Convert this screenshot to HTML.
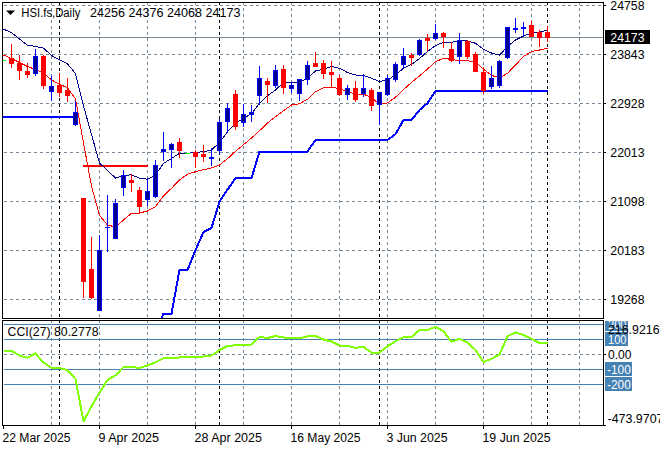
<!DOCTYPE html>
<html><head><meta charset="utf-8"><title>HSI.fs Daily</title>
<style>
html,body{margin:0;padding:0;background:#fff;}
body{width:660px;height:450px;overflow:hidden;font-family:"Liberation Sans",sans-serif;}
svg{display:block;}
text{font-family:"Liberation Sans",sans-serif;font-size:12.5px;fill:#000;}
</style></head><body>
<svg width="660" height="450" viewBox="0 0 660 450">
<rect x="0" y="0" width="660" height="450" fill="#fff"/>
<defs>
<clipPath id="cm"><rect x="3" y="3" width="600" height="315"/></clipPath>
<clipPath id="ci"><rect x="3" y="321" width="600" height="104"/></clipPath>
<clipPath id="cr"><rect x="604" y="321" width="56" height="105"/></clipPath>
</defs>

<g shape-rendering="crispEdges" fill="none" stroke-width="1">
<g stroke="#778899" stroke-dasharray="3 3">
<line x1="4" y1="5.5" x2="603" y2="5.5"/>
<line x1="4" y1="54.5" x2="603" y2="54.5"/>
<line x1="4" y1="103.5" x2="603" y2="103.5"/>
<line x1="4" y1="152.5" x2="603" y2="152.5"/>
<line x1="4" y1="201.5" x2="603" y2="201.5"/>
<line x1="4" y1="250.5" x2="603" y2="250.5"/>
<line x1="4" y1="299.5" x2="603" y2="299.5"/>
<line x1="51.5" y1="2" x2="51.5" y2="318" stroke-dashoffset="0"/>
<line x1="51.5" y1="320" x2="51.5" y2="425"/>
<line x1="99.5" y1="2" x2="99.5" y2="318" stroke-dashoffset="0"/>
<line x1="99.5" y1="320" x2="99.5" y2="425"/>
<line x1="147.5" y1="2" x2="147.5" y2="318" stroke-dashoffset="0"/>
<line x1="147.5" y1="320" x2="147.5" y2="425"/>
<line x1="195.5" y1="2" x2="195.5" y2="318" stroke-dashoffset="0"/>
<line x1="195.5" y1="320" x2="195.5" y2="425"/>
<line x1="243.5" y1="2" x2="243.5" y2="318" stroke-dashoffset="0"/>
<line x1="243.5" y1="320" x2="243.5" y2="425"/>
<line x1="291.5" y1="2" x2="291.5" y2="318" stroke-dashoffset="0"/>
<line x1="291.5" y1="320" x2="291.5" y2="425"/>
<line x1="339.5" y1="2" x2="339.5" y2="318" stroke-dashoffset="0"/>
<line x1="339.5" y1="320" x2="339.5" y2="425"/>
<line x1="387.5" y1="2" x2="387.5" y2="318" stroke-dashoffset="0"/>
<line x1="387.5" y1="320" x2="387.5" y2="425"/>
<line x1="435.5" y1="2" x2="435.5" y2="318" stroke-dashoffset="0"/>
<line x1="435.5" y1="320" x2="435.5" y2="425"/>
<line x1="483.5" y1="2" x2="483.5" y2="318" stroke-dashoffset="0"/>
<line x1="483.5" y1="320" x2="483.5" y2="425"/>
<line x1="531.5" y1="2" x2="531.5" y2="318" stroke-dashoffset="0"/>
<line x1="531.5" y1="320" x2="531.5" y2="425"/>
<line x1="579.5" y1="2" x2="579.5" y2="318" stroke-dashoffset="0"/>
<line x1="579.5" y1="320" x2="579.5" y2="425"/>
<line x1="4" y1="354.5" x2="603" y2="354.5"/>
</g>
<g stroke="#000" stroke-dasharray="3 3">
<line x1="59.5" y1="2" x2="59.5" y2="318"/>
<line x1="59.5" y1="320" x2="59.5" y2="425"/>
<line x1="219.5" y1="2" x2="219.5" y2="318"/>
<line x1="219.5" y1="320" x2="219.5" y2="425"/>
<line x1="379.5" y1="2" x2="379.5" y2="318"/>
<line x1="379.5" y1="320" x2="379.5" y2="425"/>
<line x1="547.5" y1="2" x2="547.5" y2="318"/>
<line x1="547.5" y1="320" x2="547.5" y2="425"/>
</g>
<g stroke="#4682B4">
<line x1="4" y1="324.5" x2="603" y2="324.5"/>
<line x1="4" y1="339.5" x2="603" y2="339.5"/>
<line x1="4" y1="369.5" x2="603" y2="369.5"/>
<line x1="4" y1="384.5" x2="603" y2="384.5"/>
</g>
<line x1="3" y1="37.5" x2="603" y2="37.5" stroke="#778899"/>
</g>
<g clip-path="url(#cm)" shape-rendering="crispEdges">
<polyline fill="none" stroke="#0000FF" stroke-width="2" points="2.5,117.0 75.5,117.0"/>
<polyline fill="none" stroke="#0000FF" stroke-width="2" stroke-linejoin="round" points="155.5,330.6 163.5,313.7 171.5,313.7 179.5,270.0 187.5,270.0 195.5,250.0 203.5,232.0 211.5,228.0 219.5,201.5 227.5,189.7 235.5,178.2 243.5,178.2 251.5,178.2 259.5,151.5 267.5,151.5 275.5,151.5 283.5,151.5 291.5,151.5 299.5,151.5 307.5,151.5 315.5,140.0 323.5,140.0 331.5,140.0 339.5,140.0 347.5,140.0 355.5,140.0 363.5,140.0 371.5,140.0 379.5,140.0 387.5,140.0 395.5,134.2 403.5,120.0 411.5,120.0 419.5,110.0 427.5,103.3 435.5,91.0 443.5,91.0 451.5,91.0 459.5,91.0 467.5,91.0 475.5,91.0 483.5,91.0 491.5,91.0 499.5,91.0 507.5,91.0 515.5,91.0 523.5,91.0 531.5,91.0 539.5,91.0 547.5,91.0"/>
<line x1="83" y1="165.5" x2="147.5" y2="165.5" stroke="#FF0000" stroke-width="2"/>
<polyline fill="none" stroke="#00008B" stroke-width="1" points="3.5,29.1 11.5,32.7 19.5,39.0 27.5,45.3 35.5,46.4 43.5,48.1 51.5,55.5 59.5,59.9 67.5,63.9 75.5,73.5 83.5,106.0 91.5,134.5 99.5,163.0 107.5,170.5 115.5,178.0 123.5,175.8 131.5,174.7 139.5,178.3 147.5,179.2 155.5,175.0 163.5,163.3 171.5,158.5 179.5,153.3 187.5,153.3 195.5,152.5 203.5,151.7 211.5,150.0 219.5,142.5 227.5,131.7 235.5,123.3 243.5,118.3 251.5,113.7 259.5,103.3 267.5,95.8 275.5,90.0 283.5,82.5 291.5,82.5 299.5,82.0 307.5,78.3 315.5,71.0 323.5,69.2 331.5,66.5 339.5,68.3 347.5,72.5 355.5,75.0 363.5,75.3 371.5,78.3 379.5,81.5 387.5,80.0 395.5,75.0 403.5,68.2 411.5,64.5 419.5,58.5 427.5,51.5 435.5,45.5 443.5,42.3 451.5,42.2 459.5,41.0 467.5,40.8 475.5,43.3 483.5,49.2 491.5,53.0 499.5,55.2 507.5,46.5 515.5,40.0 523.5,36.0 531.5,33.0 539.5,32.0 547.5,30.2"/>
<polyline fill="none" stroke="#FF0000" stroke-width="1" points="3.5,55.0 11.5,58.5 19.5,62.5 27.5,66.5 35.5,69.5 43.5,73.0 51.5,80.0 59.5,84.3 67.5,87.7 75.5,99.0 83.5,143.0 91.5,186.0 99.5,215.5 107.5,225.0 115.5,227.0 123.5,220.0 131.5,213.3 139.5,213.0 147.5,211.0 155.5,206.7 163.5,195.8 171.5,188.3 179.5,180.0 187.5,174.2 195.5,171.7 203.5,169.7 211.5,168.0 219.5,165.0 227.5,158.7 235.5,151.3 243.5,144.7 251.5,138.0 259.5,130.8 267.5,123.0 275.5,116.7 283.5,110.8 291.5,105.0 299.5,103.7 307.5,99.2 315.5,91.8 323.5,87.8 331.5,87.0 339.5,88.7 347.5,91.7 355.5,94.2 363.5,94.2 371.5,97.5 379.5,104.2 387.5,103.0 395.5,97.2 403.5,89.6 411.5,82.4 419.5,75.9 427.5,69.1 435.5,61.8 443.5,58.2 451.5,59.5 459.5,60.7 467.5,60.8 475.5,61.7 483.5,69.2 491.5,75.4 499.5,77.8 507.5,73.3 515.5,65.0 523.5,56.5 531.5,51.5 539.5,50.0 547.5,48.3"/>
<line x1="11.5" y1="44.2" x2="11.5" y2="67.5" stroke="#FF0000" stroke-width="1"/>
<rect x="9.5" y="58.5" width="4" height="5.0" fill="#FF0000" stroke="#FF0000" stroke-width="1"/>
<line x1="19.5" y1="55.0" x2="19.5" y2="79.7" stroke="#FF0000" stroke-width="1"/>
<rect x="17.5" y="63.5" width="4" height="7.0" fill="#FF0000" stroke="#FF0000" stroke-width="1"/>
<line x1="27.5" y1="63.0" x2="27.5" y2="77.5" stroke="#FF0000" stroke-width="1"/>
<rect x="25.5" y="71.5" width="4" height="3.0" fill="#FF0000" stroke="#FF0000" stroke-width="1"/>
<line x1="35.5" y1="49.0" x2="35.5" y2="75.8" stroke="#0000FF" stroke-width="1"/>
<rect x="33.5" y="56.5" width="4" height="17.0" fill="#00008B" stroke="#0000FF" stroke-width="1"/>
<line x1="43.5" y1="55.0" x2="43.5" y2="88.7" stroke="#FF0000" stroke-width="1"/>
<rect x="41.5" y="56.5" width="4" height="29.0" fill="#FF0000" stroke="#FF0000" stroke-width="1"/>
<line x1="51.5" y1="75.8" x2="51.5" y2="100.8" stroke="#0000FF" stroke-width="1"/>
<rect x="49.5" y="86.5" width="4" height="5.0" fill="#00008B" stroke="#0000FF" stroke-width="1"/>
<line x1="59.5" y1="73.0" x2="59.5" y2="96.7" stroke="#FF0000" stroke-width="1"/>
<rect x="57.5" y="85.5" width="4" height="7.0" fill="#FF0000" stroke="#FF0000" stroke-width="1"/>
<line x1="67.5" y1="78.0" x2="67.5" y2="101.7" stroke="#FF0000" stroke-width="1"/>
<rect x="65.5" y="90.5" width="4" height="5.0" fill="#FF0000" stroke="#FF0000" stroke-width="1"/>
<line x1="75.5" y1="100.8" x2="75.5" y2="125.8" stroke="#0000FF" stroke-width="1"/>
<rect x="73.5" y="112.5" width="4" height="12.0" fill="#00008B" stroke="#0000FF" stroke-width="1"/>
<line x1="83.5" y1="198.3" x2="83.5" y2="298.0" stroke="#FF0000" stroke-width="1"/>
<rect x="81.5" y="198.5" width="4" height="83.0" fill="#FF0000" stroke="#FF0000" stroke-width="1"/>
<line x1="91.5" y1="236.7" x2="91.5" y2="298.8" stroke="#FF0000" stroke-width="1"/>
<rect x="89.5" y="269.5" width="4" height="28.0" fill="#FF0000" stroke="#FF0000" stroke-width="1"/>
<line x1="99.5" y1="235.0" x2="99.5" y2="310.8" stroke="#0000FF" stroke-width="1"/>
<rect x="97.5" y="250.5" width="4" height="60.0" fill="#00008B" stroke="#0000FF" stroke-width="1"/>
<line x1="107.5" y1="195.0" x2="107.5" y2="251.7" stroke="#0000FF" stroke-width="1"/>
<line x1="105.0" y1="227.5" x2="110.0" y2="227.5" stroke="#0000FF" stroke-width="1"/>
<line x1="115.5" y1="199.2" x2="115.5" y2="238.7" stroke="#0000FF" stroke-width="1"/>
<rect x="113.5" y="203.5" width="4" height="35.0" fill="#00008B" stroke="#0000FF" stroke-width="1"/>
<line x1="123.5" y1="170.0" x2="123.5" y2="195.8" stroke="#0000FF" stroke-width="1"/>
<rect x="121.5" y="175.5" width="4" height="12.0" fill="#00008B" stroke="#0000FF" stroke-width="1"/>
<line x1="131.5" y1="173.7" x2="131.5" y2="191.7" stroke="#FF0000" stroke-width="1"/>
<rect x="129.5" y="180.5" width="4" height="2.0" fill="#FF0000" stroke="#FF0000" stroke-width="1"/>
<line x1="139.5" y1="187.0" x2="139.5" y2="214.2" stroke="#FF0000" stroke-width="1"/>
<rect x="137.5" y="190.5" width="4" height="16.0" fill="#FF0000" stroke="#FF0000" stroke-width="1"/>
<line x1="147.5" y1="178.3" x2="147.5" y2="205.8" stroke="#0000FF" stroke-width="1"/>
<rect x="145.5" y="191.5" width="4" height="8.0" fill="#00008B" stroke="#0000FF" stroke-width="1"/>
<line x1="155.5" y1="160.0" x2="155.5" y2="197.5" stroke="#0000FF" stroke-width="1"/>
<rect x="153.5" y="165.5" width="4" height="31.0" fill="#00008B" stroke="#0000FF" stroke-width="1"/>
<line x1="163.5" y1="132.0" x2="163.5" y2="160.5" stroke="#0000FF" stroke-width="1"/>
<rect x="161.5" y="149.5" width="4" height="2.0" fill="#00008B" stroke="#0000FF" stroke-width="1"/>
<line x1="171.5" y1="143.0" x2="171.5" y2="168.3" stroke="#0000FF" stroke-width="1"/>
<rect x="169.5" y="144.5" width="4" height="5.0" fill="#00008B" stroke="#0000FF" stroke-width="1"/>
<line x1="179.5" y1="138.0" x2="179.5" y2="157.5" stroke="#FF0000" stroke-width="1"/>
<rect x="177.5" y="142.5" width="4" height="8.0" fill="#FF0000" stroke="#FF0000" stroke-width="1"/>
<line x1="195.5" y1="150.0" x2="195.5" y2="167.5" stroke="#FF0000" stroke-width="1"/>
<rect x="193.5" y="152.5" width="4" height="4.0" fill="#FF0000" stroke="#FF0000" stroke-width="1"/>
<line x1="203.5" y1="145.0" x2="203.5" y2="161.7" stroke="#FF0000" stroke-width="1"/>
<rect x="201.5" y="154.5" width="4" height="2.0" fill="#FF0000" stroke="#FF0000" stroke-width="1"/>
<line x1="211.5" y1="148.3" x2="211.5" y2="165.8" stroke="#0000FF" stroke-width="1"/>
<rect x="209.5" y="157.5" width="4" height="1.0" fill="#00008B" stroke="#0000FF" stroke-width="1"/>
<line x1="219.5" y1="119.0" x2="219.5" y2="154.0" stroke="#0000FF" stroke-width="1"/>
<rect x="217.5" y="122.5" width="4" height="28.0" fill="#00008B" stroke="#0000FF" stroke-width="1"/>
<line x1="227.5" y1="103.0" x2="227.5" y2="133.3" stroke="#0000FF" stroke-width="1"/>
<rect x="225.5" y="108.5" width="4" height="13.0" fill="#00008B" stroke="#0000FF" stroke-width="1"/>
<line x1="235.5" y1="90.0" x2="235.5" y2="130.3" stroke="#FF0000" stroke-width="1"/>
<rect x="233.5" y="94.5" width="4" height="32.0" fill="#FF0000" stroke="#FF0000" stroke-width="1"/>
<line x1="243.5" y1="104.0" x2="243.5" y2="126.7" stroke="#0000FF" stroke-width="1"/>
<rect x="241.5" y="114.5" width="4" height="8.0" fill="#00008B" stroke="#0000FF" stroke-width="1"/>
<line x1="251.5" y1="105.0" x2="251.5" y2="121.7" stroke="#0000FF" stroke-width="1"/>
<rect x="249.5" y="112.5" width="4" height="2.0" fill="#00008B" stroke="#0000FF" stroke-width="1"/>
<line x1="259.5" y1="65.8" x2="259.5" y2="105.0" stroke="#0000FF" stroke-width="1"/>
<rect x="257.5" y="78.5" width="4" height="17.0" fill="#00008B" stroke="#0000FF" stroke-width="1"/>
<line x1="267.5" y1="78.0" x2="267.5" y2="102.5" stroke="#FF0000" stroke-width="1"/>
<rect x="265.5" y="81.5" width="4" height="3.0" fill="#FF0000" stroke="#FF0000" stroke-width="1"/>
<line x1="275.5" y1="65.0" x2="275.5" y2="87.5" stroke="#0000FF" stroke-width="1"/>
<rect x="273.5" y="70.5" width="4" height="15.0" fill="#00008B" stroke="#0000FF" stroke-width="1"/>
<line x1="283.5" y1="65.0" x2="283.5" y2="93.7" stroke="#FF0000" stroke-width="1"/>
<rect x="281.5" y="69.5" width="4" height="18.0" fill="#FF0000" stroke="#FF0000" stroke-width="1"/>
<line x1="291.5" y1="82.5" x2="291.5" y2="92.5" stroke="#0000FF" stroke-width="1"/>
<rect x="289.5" y="85.5" width="4" height="3.0" fill="#00008B" stroke="#0000FF" stroke-width="1"/>
<line x1="299.5" y1="79.2" x2="299.5" y2="100.8" stroke="#0000FF" stroke-width="1"/>
<rect x="297.5" y="79.5" width="4" height="14.0" fill="#00008B" stroke="#0000FF" stroke-width="1"/>
<line x1="307.5" y1="61.3" x2="307.5" y2="84.7" stroke="#0000FF" stroke-width="1"/>
<rect x="305.5" y="65.5" width="4" height="14.0" fill="#00008B" stroke="#0000FF" stroke-width="1"/>
<line x1="315.5" y1="52.0" x2="315.5" y2="66.7" stroke="#FF0000" stroke-width="1"/>
<rect x="313.5" y="63.5" width="4" height="3.0" fill="#FF0000" stroke="#FF0000" stroke-width="1"/>
<line x1="323.5" y1="60.0" x2="323.5" y2="78.5" stroke="#FF0000" stroke-width="1"/>
<rect x="321.5" y="63.5" width="4" height="10.0" fill="#FF0000" stroke="#FF0000" stroke-width="1"/>
<line x1="331.5" y1="60.8" x2="331.5" y2="85.8" stroke="#FF0000" stroke-width="1"/>
<rect x="329.5" y="72.5" width="4" height="2.0" fill="#FF0000" stroke="#FF0000" stroke-width="1"/>
<line x1="339.5" y1="74.7" x2="339.5" y2="95.8" stroke="#FF0000" stroke-width="1"/>
<rect x="337.5" y="78.5" width="4" height="16.0" fill="#FF0000" stroke="#FF0000" stroke-width="1"/>
<line x1="347.5" y1="85.0" x2="347.5" y2="99.7" stroke="#0000FF" stroke-width="1"/>
<rect x="345.5" y="88.5" width="4" height="6.0" fill="#00008B" stroke="#0000FF" stroke-width="1"/>
<line x1="355.5" y1="80.8" x2="355.5" y2="101.7" stroke="#FF0000" stroke-width="1"/>
<rect x="353.5" y="88.5" width="4" height="11.0" fill="#FF0000" stroke="#FF0000" stroke-width="1"/>
<line x1="363.5" y1="74.2" x2="363.5" y2="96.7" stroke="#0000FF" stroke-width="1"/>
<rect x="361.5" y="88.5" width="4" height="5.0" fill="#00008B" stroke="#0000FF" stroke-width="1"/>
<line x1="371.5" y1="88.0" x2="371.5" y2="110.5" stroke="#FF0000" stroke-width="1"/>
<rect x="369.5" y="90.5" width="4" height="15.0" fill="#FF0000" stroke="#FF0000" stroke-width="1"/>
<line x1="379.5" y1="91.7" x2="379.5" y2="125.3" stroke="#0000FF" stroke-width="1"/>
<rect x="377.5" y="92.5" width="4" height="12.0" fill="#00008B" stroke="#0000FF" stroke-width="1"/>
<line x1="387.5" y1="75.0" x2="387.5" y2="95.8" stroke="#0000FF" stroke-width="1"/>
<rect x="385.5" y="78.5" width="4" height="16.0" fill="#00008B" stroke="#0000FF" stroke-width="1"/>
<line x1="395.5" y1="61.8" x2="395.5" y2="82.0" stroke="#0000FF" stroke-width="1"/>
<rect x="393.5" y="64.5" width="4" height="15.0" fill="#00008B" stroke="#0000FF" stroke-width="1"/>
<line x1="403.5" y1="47.8" x2="403.5" y2="67.5" stroke="#0000FF" stroke-width="1"/>
<rect x="401.5" y="56.5" width="4" height="8.0" fill="#00008B" stroke="#0000FF" stroke-width="1"/>
<line x1="411.5" y1="52.8" x2="411.5" y2="65.8" stroke="#FF0000" stroke-width="1"/>
<rect x="409.5" y="55.5" width="4" height="2.0" fill="#FF0000" stroke="#FF0000" stroke-width="1"/>
<line x1="419.5" y1="38.7" x2="419.5" y2="55.8" stroke="#0000FF" stroke-width="1"/>
<rect x="417.5" y="40.5" width="4" height="14.0" fill="#00008B" stroke="#0000FF" stroke-width="1"/>
<line x1="427.5" y1="34.2" x2="427.5" y2="50.8" stroke="#FF0000" stroke-width="1"/>
<rect x="425.5" y="38.5" width="4" height="2.0" fill="#FF0000" stroke="#FF0000" stroke-width="1"/>
<line x1="435.5" y1="24.2" x2="435.5" y2="40.3" stroke="#0000FF" stroke-width="1"/>
<rect x="433.5" y="33.5" width="4" height="5.0" fill="#00008B" stroke="#0000FF" stroke-width="1"/>
<line x1="443.5" y1="31.7" x2="443.5" y2="48.0" stroke="#FF0000" stroke-width="1"/>
<rect x="441.5" y="33.5" width="4" height="3.0" fill="#FF0000" stroke="#FF0000" stroke-width="1"/>
<line x1="451.5" y1="41.7" x2="451.5" y2="61.7" stroke="#FF0000" stroke-width="1"/>
<rect x="449.5" y="49.5" width="4" height="11.0" fill="#FF0000" stroke="#FF0000" stroke-width="1"/>
<line x1="459.5" y1="33.0" x2="459.5" y2="63.7" stroke="#0000FF" stroke-width="1"/>
<rect x="457.5" y="40.5" width="4" height="16.0" fill="#00008B" stroke="#0000FF" stroke-width="1"/>
<line x1="467.5" y1="40.0" x2="467.5" y2="58.5" stroke="#FF0000" stroke-width="1"/>
<rect x="465.5" y="41.5" width="4" height="15.0" fill="#FF0000" stroke="#FF0000" stroke-width="1"/>
<line x1="475.5" y1="52.0" x2="475.5" y2="71.7" stroke="#FF0000" stroke-width="1"/>
<rect x="473.5" y="54.5" width="4" height="17.0" fill="#FF0000" stroke="#FF0000" stroke-width="1"/>
<line x1="483.5" y1="66.5" x2="483.5" y2="94.2" stroke="#FF0000" stroke-width="1"/>
<rect x="481.5" y="72.5" width="4" height="18.0" fill="#FF0000" stroke="#FF0000" stroke-width="1"/>
<line x1="491.5" y1="65.8" x2="491.5" y2="88.7" stroke="#0000FF" stroke-width="1"/>
<rect x="489.5" y="78.5" width="4" height="8.0" fill="#00008B" stroke="#0000FF" stroke-width="1"/>
<line x1="499.5" y1="59.8" x2="499.5" y2="87.5" stroke="#0000FF" stroke-width="1"/>
<rect x="497.5" y="61.5" width="4" height="24.0" fill="#00008B" stroke="#0000FF" stroke-width="1"/>
<line x1="507.5" y1="27.2" x2="507.5" y2="58.5" stroke="#0000FF" stroke-width="1"/>
<rect x="505.5" y="27.5" width="4" height="30.0" fill="#00008B" stroke="#0000FF" stroke-width="1"/>
<line x1="515.5" y1="18.0" x2="515.5" y2="32.8" stroke="#0000FF" stroke-width="1"/>
<rect x="513.5" y="28.5" width="4" height="1.0" fill="#00008B" stroke="#0000FF" stroke-width="1"/>
<line x1="523.5" y1="22.0" x2="523.5" y2="36.1" stroke="#0000FF" stroke-width="1"/>
<rect x="521.5" y="27.5" width="4" height="1.0" fill="#00008B" stroke="#0000FF" stroke-width="1"/>
<line x1="531.5" y1="20.9" x2="531.5" y2="37.2" stroke="#FF0000" stroke-width="1"/>
<rect x="529.5" y="25.5" width="4" height="11.0" fill="#FF0000" stroke="#FF0000" stroke-width="1"/>
<line x1="539.5" y1="30.0" x2="539.5" y2="46.7" stroke="#FF0000" stroke-width="1"/>
<rect x="537.5" y="32.5" width="4" height="5.0" fill="#FF0000" stroke="#FF0000" stroke-width="1"/>
<line x1="547.5" y1="26.1" x2="547.5" y2="42.2" stroke="#FF0000" stroke-width="1"/>
<rect x="545.5" y="32.5" width="4" height="5.0" fill="#FF0000" stroke="#FF0000" stroke-width="1"/>
<line x1="1" y1="60.5" x2="6" y2="60.5" stroke="#00FF00" stroke-width="1"/>
<line x1="185" y1="153.5" x2="190" y2="153.5" stroke="#00FF00" stroke-width="1"/>
</g>
<g clip-path="url(#ci)" shape-rendering="crispEdges">
<polyline fill="none" stroke="#7FFF00" stroke-width="2" stroke-linejoin="round" points="3.5,350.8 11.5,350.8 19.5,355.5 27.5,357.7 35.5,353.5 43.5,362.5 51.5,367.8 59.5,368.2 67.5,370.2 75.5,379.0 83.5,421.3 91.5,406.3 99.5,392.5 107.5,380.0 115.5,375.3 123.5,367.0 131.5,367.0 139.5,368.0 147.5,365.5 155.5,362.3 163.5,358.3 171.5,358.0 179.5,357.5 187.5,357.0 195.5,357.0 203.5,356.5 211.5,355.5 219.5,350.0 227.5,346.0 235.5,345.3 243.5,345.0 251.5,344.5 259.5,337.0 267.5,338.0 275.5,336.0 283.5,337.5 291.5,338.3 299.5,338.3 307.5,336.3 315.5,336.0 323.5,339.5 331.5,341.5 339.5,345.5 347.5,346.0 355.5,347.8 363.5,347.0 371.5,352.5 379.5,352.5 387.5,346.3 395.5,341.3 403.5,337.2 411.5,337.0 419.5,330.0 427.5,330.0 435.5,326.8 443.5,331.3 451.5,341.8 459.5,338.8 467.5,342.5 475.5,350.0 483.5,362.0 491.5,358.8 499.5,354.5 507.5,336.3 515.5,332.5 523.5,335.0 531.5,338.8 539.5,343.0 547.5,343.0"/>
</g>
<g shape-rendering="crispEdges" stroke="#000" stroke-width="1" fill="none">
<path d="M2.5 2 V318.5 M2 2.5 H604 M603.5 2 V318.5 M2 318.5 H604"/>
<path d="M2.5 320 V426 M2 320.5 H604 M603.5 320 V426 M2 425.5 H604"/>
<line x1="604" y1="5.5" x2="606" y2="5.5"/>
<line x1="604" y1="54.5" x2="606" y2="54.5"/>
<line x1="604" y1="103.5" x2="606" y2="103.5"/>
<line x1="604" y1="152.5" x2="606" y2="152.5"/>
<line x1="604" y1="201.5" x2="606" y2="201.5"/>
<line x1="604" y1="250.5" x2="606" y2="250.5"/>
<line x1="604" y1="299.5" x2="606" y2="299.5"/>
<line x1="604" y1="354.5" x2="606" y2="354.5"/>
<line x1="604" y1="425.5" x2="606" y2="425.5"/>
<line x1="3.5" y1="426" x2="3.5" y2="429"/>
<line x1="99.5" y1="426" x2="99.5" y2="429"/>
<line x1="195.5" y1="426" x2="195.5" y2="429"/>
<line x1="291.5" y1="426" x2="291.5" y2="429"/>
<line x1="387.5" y1="426" x2="387.5" y2="429"/>
<line x1="483.5" y1="426" x2="483.5" y2="429"/>
</g>
<text x="610.3" y="9.8" textLength="34.2" lengthAdjust="spacingAndGlyphs">24758</text>
<text x="610.3" y="58.8" textLength="34.2" lengthAdjust="spacingAndGlyphs">23843</text>
<text x="610.3" y="107.8" textLength="34.2" lengthAdjust="spacingAndGlyphs">22928</text>
<text x="610.3" y="156.8" textLength="34.2" lengthAdjust="spacingAndGlyphs">22013</text>
<text x="610.3" y="205.8" textLength="34.2" lengthAdjust="spacingAndGlyphs">21098</text>
<text x="610.3" y="254.8" textLength="34.2" lengthAdjust="spacingAndGlyphs">20183</text>
<text x="610.3" y="303.8" textLength="34.2" lengthAdjust="spacingAndGlyphs">19268</text>
<rect x="605" y="30" width="45" height="14" fill="#000" shape-rendering="crispEdges"/>
<text x="610.3" y="42" textLength="34.2" lengthAdjust="spacingAndGlyphs" style="fill:#fff">24173</text>
<g clip-path="url(#cr)">
<rect x="605" y="317" width="23" height="14" fill="#4682B4" shape-rendering="crispEdges"/>
<text x="608" y="329" textLength="18.5" lengthAdjust="spacingAndGlyphs" style="fill:#fff">200</text>
<rect x="605" y="332" width="23" height="14" fill="#4682B4" shape-rendering="crispEdges"/>
<text x="608" y="343.8" textLength="18.5" lengthAdjust="spacingAndGlyphs" style="fill:#fff">100</text>
<rect x="605" y="362" width="27" height="14" fill="#4682B4" shape-rendering="crispEdges"/>
<text x="607" y="373.8" textLength="23.8" lengthAdjust="spacingAndGlyphs" style="fill:#fff">-100</text>
<rect x="605" y="377" width="27" height="14" fill="#4682B4" shape-rendering="crispEdges"/>
<text x="607" y="388.8" textLength="23.8" lengthAdjust="spacingAndGlyphs" style="fill:#fff">-200</text>
<text x="608" y="358.8" textLength="23.5" lengthAdjust="spacingAndGlyphs">0.00</text>
<text x="608" y="334" textLength="51.5" lengthAdjust="spacingAndGlyphs">216.9216</text>
<text x="607.5" y="423.3" textLength="56" lengthAdjust="spacingAndGlyphs">-473.9707</text>
</g>
<path d="M6 10.5 H15 L10.5 15 Z" fill="#000"/>
<text x="21.3" y="16.5" textLength="59" lengthAdjust="spacingAndGlyphs">HSI.fs,Daily</text>
<text x="90" y="16.5" textLength="150.5" lengthAdjust="spacingAndGlyphs" style="white-space:pre" xml:space="preserve">24256 24376 24068 24173</text>
<text x="7.5" y="335.5" textLength="91" lengthAdjust="spacingAndGlyphs">CCI(27) 80.2778</text>
<text x="2.5" y="442" textLength="68.0" lengthAdjust="spacingAndGlyphs">22 Mar 2025</text>
<text x="98.5" y="442" textLength="60.5" lengthAdjust="spacingAndGlyphs">9 Apr 2025</text>
<text x="194.5" y="442" textLength="67.5" lengthAdjust="spacingAndGlyphs">28 Apr 2025</text>
<text x="290.5" y="442" textLength="70.0" lengthAdjust="spacingAndGlyphs">16 May 2025</text>
<text x="386.5" y="442" textLength="61.0" lengthAdjust="spacingAndGlyphs">3 Jun 2025</text>
<text x="482.5" y="442" textLength="68.0" lengthAdjust="spacingAndGlyphs">19 Jun 2025</text>
</svg></body></html>
